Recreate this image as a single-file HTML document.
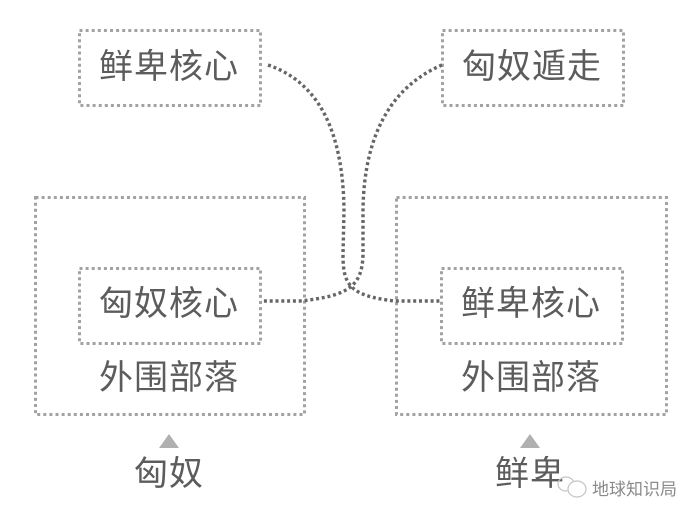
<!DOCTYPE html>
<html><head><meta charset="utf-8">
<style>
html,body{margin:0;padding:0;background:#fff;width:700px;height:517px;overflow:hidden}
svg{display:block}
text{font-family:"Liberation Sans","WenQuanYi Zen Hei","Noto Sans CJK SC",sans-serif;fill:#5c5c5c}
.l{font-size:34px;letter-spacing:1px;text-anchor:middle}
.b{fill:none;stroke:#a2a2a2;stroke-width:3;stroke-dasharray:3 3.1}
.c{fill:none;stroke:#666;stroke-width:3.4;stroke-dasharray:3 2.8}
</style></head><body>
<svg width="700" height="517" viewBox="0 0 700 517" xmlns="http://www.w3.org/2000/svg">
<rect class="b" x="79.5" y="30.5" width="181" height="75"/>
<rect class="b" x="442.5" y="30.5" width="181" height="75"/>
<rect class="b" x="35.5" y="197.5" width="269" height="217"/>
<rect class="b" x="396.5" y="197.5" width="270" height="217"/>
<rect class="b" x="79.5" y="268.5" width="181" height="75"/>
<rect class="b" x="441.5" y="268.5" width="181" height="75"/>
<path class="c" d="M268 65 C318 82 343 130 344 210 L343 255 C343 285 350 296 395 301 L441 301"/>
<path class="c" d="M442 65 C395 85 364 130 363 210 L363 255 C362 285 350 296 300 301 L261 301"/>
<text class="l" x="169" y="78">鲜卑核心</text>
<text class="l" x="532" y="78">匈奴遁走</text>
<text class="l" x="169" y="315">匈奴核心</text>
<text class="l" x="531" y="315">鲜卑核心</text>
<text class="l" x="169" y="389">外围部落</text>
<text class="l" x="531" y="389">外围部落</text>
<polygon points="169,434 179,448 159,448" fill="#b0b0b0"/>
<polygon points="530,434 540,448 520,448" fill="#b0b0b0"/>
<text class="l" x="169" y="485">匈奴</text>
<text class="l" x="530" y="485">鲜卑</text>
<g fill="none" stroke="#c4c4c4" stroke-width="1.2">
<ellipse cx="566" cy="484" rx="8" ry="7"/>
<ellipse cx="577" cy="489" rx="9" ry="8" fill="#fff"/>
</g>
<text x="592" y="495" style="font-size:17px;fill:#8a8a8a">地球知识局</text>
</svg>
</body></html>
